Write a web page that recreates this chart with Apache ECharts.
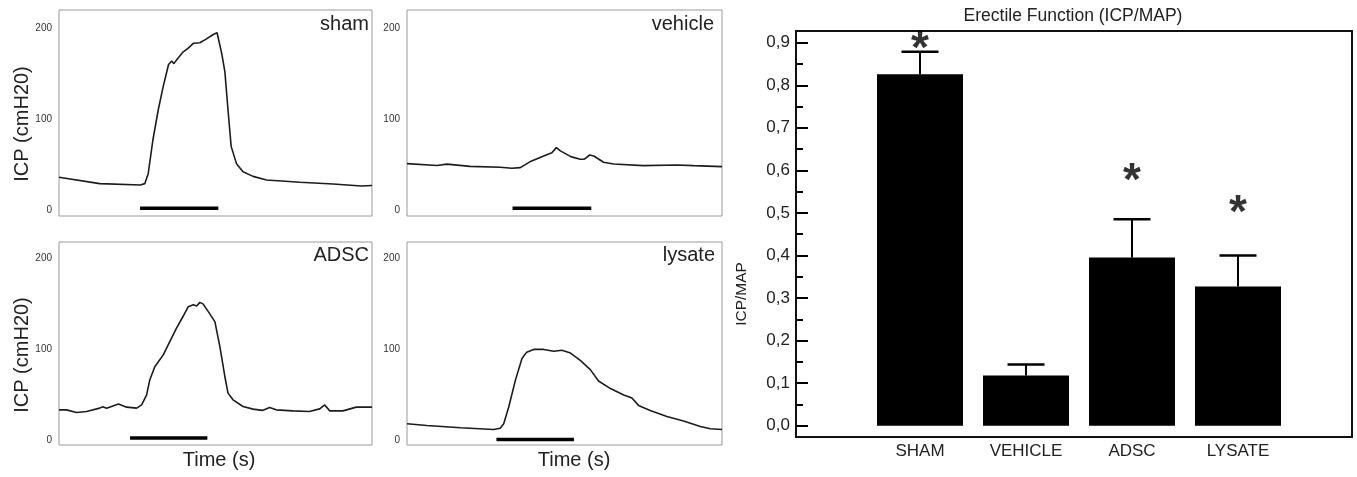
<!DOCTYPE html>
<html>
<head>
<meta charset="utf-8">
<script src="https://cdn.jsdelivr.net/npm/echarts@6/dist/echarts.min.js"></script>
<style>html,body{margin:0;padding:0;background:#fff}#c{width:1357px;height:477px}</style>
</head>
<body>
<div id="c"></div>
<script>
// ---- Trace panels (time in % of record, ICP in cmH20) ----
const shamX = [0,13,26,27.4,28.5,30,31.7,33.3,35,36,36.7,38,39.7,41.3,43,45,47,49.3,50.5,51,52,53,54,55,56.7,58.8,62,66.3,77,87.6,96.6,100];
const shamY = [36,29,27.5,29,40,77,110,136,160,164,161,167,174,178,183.5,184,188,193,195,193,172,152,110,70,51,42,37,33,30.5,28.6,26.4,27];
const vehicleX = [0,9.5,12.7,20,29.6,33.3,36,39,43.4,46,47.4,48.7,52,55,56.3,58,59.3,62.4,65.6,75,85.7,91,100];
const vehicleY = [51,49,50.5,48,47,46,46.6,53,59.4,63,68.6,65,58.7,55.8,56,60.5,59.4,52.5,50.6,48.8,49.5,48.8,47.7];
const adscX = [0,2.4,5.6,8.8,13,14,15.2,19,21.6,24.8,26.4,28,29,30.6,33.3,35.4,37.5,39.7,41.3,42.9,44,45,46,47.7,49.8,51.4,53,54,55.6,58.8,62,65,67.3,69.4,74.8,80,83.3,84.9,86.5,90.7,95,100];
const adscY = [33.6,33.6,30.7,31.8,35.5,37,35.5,40,36.6,35.5,39,50,66.5,81,94,108.6,123,136.7,147,149,147.7,151.7,150,141.5,130.5,103,70,52,44.6,37.3,34.4,33,36.2,33.6,32.5,31.8,34.7,39,32.5,32.5,36.6,36.6];
const lysateX = [0,6.3,17,27.5,29.6,30.7,32.3,34.4,36.5,38,40.2,43.4,46.6,49.2,51.9,55,58.2,60.8,64.6,68.8,71.4,73.5,77.2,82.5,87.8,93.1,96.3,100];
const lysateY = [18.3,16.5,14,12,13.5,18.3,36.7,66,90,97,100,100,98,99,96,88,77.8,65.3,57,50,46.6,38.5,33,26.4,21.3,15.4,12.8,12];
// stimulation bars: [start, end, level]
const shamStim = [25.9, 50.9, 1.8];
const vehicleStim = [33.5, 58.5, 1.8];
const adscStim = [22.7, 47.4, 2.6];
const lysateStim = [28.4, 53.0, 1.1];
const panelNames = ['sham', 'vehicle', 'ADSC', 'lysate'];
const traceTicks = [0, 100, 200];

// ---- Bar chart ----
const groups = ['SHAM', 'VEHICLE', 'ADSC', 'LYSATE'];
const ratioMean = [0.826, 0.118, 0.395, 0.327];
const ratioErr = [0.053, 0.026, 0.090, 0.073];
const sigMarkY = [0.902, null, 0.591, 0.515];

const FONT = '"Liberation Sans", Arial, sans-serif';
const chart = echarts.init(document.getElementById('c'), null, {renderer: 'canvas'});

const traceGrids = [
  {left: 59, top: 10, width: 313, height: 206},
  {left: 407, top: 10, width: 315, height: 206},
  {left: 59, top: 242, width: 313, height: 203},
  {left: 407, top: 242, width: 315, height: 203}
];
const yRanges = [[-6.6, 220], [-6.6, 220], [-5, 218], [-5, 218]];
const traces = [[shamX, shamY], [vehicleX, vehicleY], [adscX, adscY], [lysateX, lysateY]];
const stims = [shamStim, vehicleStim, adscStim, lysateStim];

const grid = traceGrids.map(g => Object.assign({show: true, borderColor: '#9a9a9a', borderWidth: 1, backgroundColor: 'transparent'}, g));
grid.push({left: 796, top: 31, width: 556, height: 406, show: true, borderColor: '#111', borderWidth: 2, backgroundColor: 'transparent'});
grid.push({left: 867, top: 42.7, width: 424, height: 383});

const xAxis = [], yAxis = [], series = [];
for (let i = 0; i < 4; i++) {
  xAxis.push({gridIndex: i, type: 'value', min: 0, max: 100, show: false});
  yAxis.push({gridIndex: i, type: 'value', min: yRanges[i][0], max: yRanges[i][1],
    axisLine: {show: false}, axisTick: {show: false}, splitLine: {show: false},
    axisLabel: {customValues: traceTicks, fontSize: 10, color: '#333', margin: 7, fontFamily: FONT}});
  const [tx, ty] = traces[i];
  series.push({type: 'line', xAxisIndex: i, yAxisIndex: i, showSymbol: false, symbol: 'none',
    data: tx.map((x, k) => [x, ty[k]]), lineStyle: {color: '#1c1c1c', width: 1.6}, silent: true});
  const s = stims[i];
  series.push({type: 'line', xAxisIndex: i, yAxisIndex: i, showSymbol: false, symbol: 'none',
    data: [[s[0], s[2]], [s[1], s[2]]], lineStyle: {color: '#000', width: 3.5}, silent: true});
}
// frame grid axes
xAxis.push({gridIndex: 4, type: 'value', min: 0, max: 1, show: false});
yAxis.push({gridIndex: 4, type: 'value', min: 0, max: 1, show: false});
// bar axes
xAxis.push({gridIndex: 5, type: 'category', data: groups,
  axisLine: {show: false}, axisTick: {show: false},
  axisLabel: {fontSize: 17, color: '#222', margin: 17, fontFamily: FONT}});
yAxis.push({gridIndex: 5, type: 'value', min: 0, max: 0.9, interval: 0.1, offset: 71,
  axisLine: {show: false}, splitLine: {show: false},
  axisTick: {show: true, inside: true, length: 12, lineStyle: {color: '#000', width: 2}},
  minorTick: {show: true, splitNumber: 2, length: 7, lineStyle: {color: '#000', width: 2}},
  axisLabel: {fontSize: 17, color: '#222', margin: 6, fontFamily: FONT,
    formatter: v => v.toFixed(1).replace('.', ',')}});

series.push({type: 'bar', xAxisIndex: 5, yAxisIndex: 5, data: ratioMean, barWidth: 86,
  itemStyle: {color: '#000'}, silent: true});
series.push({type: 'custom', xAxisIndex: 5, yAxisIndex: 5, silent: true, clip: false,
  data: ratioMean.map((m, i) => [i, m, m + ratioErr[i]]),
  renderItem: (params, api) => {
    const base = api.coord([api.value(0), api.value(1)]);
    const top = api.coord([api.value(0), api.value(2)]);
    const hw = 18.5;
    return {type: 'group', children: [
      {type: 'line', shape: {x1: base[0], y1: base[1], x2: top[0], y2: top[1]}, style: {stroke: '#000', lineWidth: 2}},
      {type: 'line', shape: {x1: top[0] - hw, y1: top[1], x2: top[0] + hw, y2: top[1]}, style: {stroke: '#000', lineWidth: 2.5}}
    ]};
  }});
series.push({type: 'scatter', xAxisIndex: 5, yAxisIndex: 5, symbolSize: 1, silent: true, clip: false,
  itemStyle: {color: 'rgba(0,0,0,0)'},
  data: sigMarkY.map((v, i) => v == null ? null : [i, v]).filter(d => d),
  label: {show: true, position: 'inside', formatter: '*', fontSize: 46, fontWeight: 'bold',
    color: '#000', fontFamily: FONT, offset: [0, 8]}});

const graphic = [
  {type: 'text', x: 1073, y: 16, style: {text: 'Erectile Function (ICP/MAP)', font: '17.5px ' + FONT, fill: '#222', textAlign: 'center', textVerticalAlign: 'middle'}},
  {type: 'text', x: 742, y: 294, rotation: Math.PI / 2, style: {text: 'ICP/MAP', font: '15.5px ' + FONT, fill: '#222', textAlign: 'center', textVerticalAlign: 'middle'}},
  {type: 'text', x: 22, y: 124, rotation: Math.PI / 2, style: {text: 'ICP (cmH20)', font: '20px ' + FONT, fill: '#222', textAlign: 'center', textVerticalAlign: 'middle'}},
  {type: 'text', x: 22, y: 355, rotation: Math.PI / 2, style: {text: 'ICP (cmH20)', font: '20px ' + FONT, fill: '#222', textAlign: 'center', textVerticalAlign: 'middle'}},
  {type: 'text', x: 219, y: 460, style: {text: 'Time (s)', font: '20px ' + FONT, fill: '#222', textAlign: 'center', textVerticalAlign: 'middle'}},
  {type: 'text', x: 574, y: 460, style: {text: 'Time (s)', font: '20px ' + FONT, fill: '#222', textAlign: 'center', textVerticalAlign: 'middle'}}
];
const namePos = [[369, 24], [714, 24], [369, 255], [715, 255]];
panelNames.forEach((n, i) => graphic.push({type: 'text', x: namePos[i][0], y: namePos[i][1],
  style: {text: n, font: '20px ' + FONT, fill: '#222', textAlign: 'right', textVerticalAlign: 'middle'}}));

chart.setOption({animation: false, backgroundColor: '#fff', grid, xAxis, yAxis, series, graphic});
</script>
</body>
</html>
